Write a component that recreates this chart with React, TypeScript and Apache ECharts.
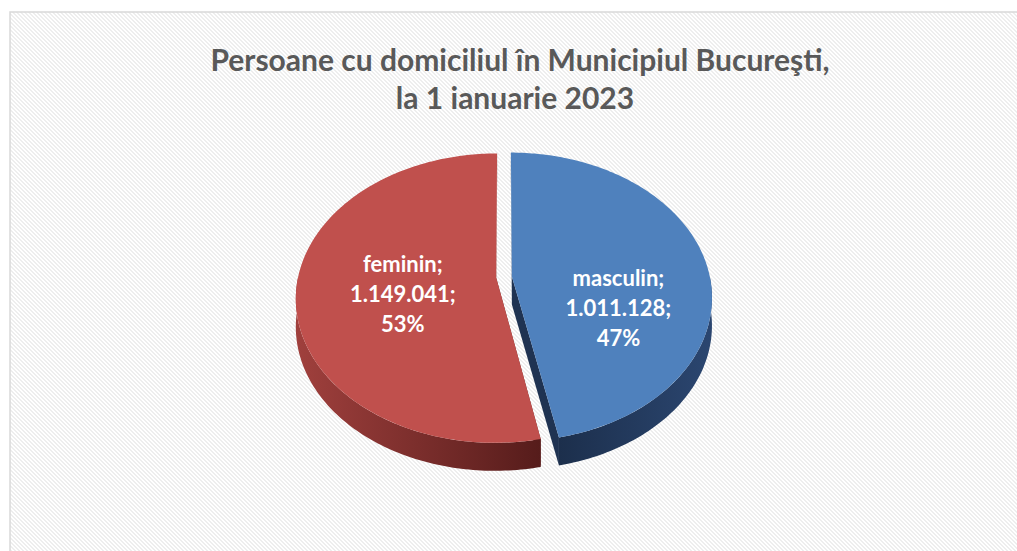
import React, { useEffect, useRef } from "react";
import * as echarts from "echarts";

const titleLines = ["Persoane cu domiciliul în Municipiul Bucureşti,", "la 1 ianuarie 2023"];
const categories = ["masculin", "feminin"];
const values = [1011128, 1149041];
const topColors = ["#4f81bd", "#c0504d"];
const wallColorsA = ["#2b4670", "#a0403d"];
const wallColorsB = ["#1c2f4c", "#561c1b"];
const cutColors = ["#1f3352", "#6a2422"];

const W = 1017;
const H = 551;

function fmtNum(v: number) {
  return String(v).replace(/\B(?=(\d{3})+(?!\d))/g, ".");
}

function makePattern() {
  const c = document.createElement("canvas");
  c.width = 4;
  c.height = 4;
  const ctx = c.getContext("2d")!;
  ctx.fillStyle = "#ffffff";
  ctx.fillRect(0, 0, 4, 4);
  ctx.fillStyle = "#eeeeee";
  for (let y = 0; y < 4; y++) {
    for (let x = 0; x < 4; x++) {
      const d = (((x - y) % 4) + 4) % 4;
      if (d < 2) ctx.fillRect(x, y, 1, 1);
    }
  }
  return c;
}

export default function App() {
  const ref = useRef<HTMLDivElement>(null);
  useEffect(() => {
    if (!ref.current) return;
    const chart = echarts.init(ref.current, null, { renderer: "svg" });
    const total = values.reduce((a, b) => a + b, 0);
    // geometry
    const cx = 504;
    const cyV = 277;
    const A = 198;
    const B = 141.6;
    const pa = 0.142;
    const depth = 28;
    const explode = 0.04;
    const labelR = 0.52;
    const labelDy = [38, 8];
    const labelDx = [5, 10];

    const proj = (x: number, z: number) => {
      const s = 1 + pa * z;
      return [cx + (A * x) / s, cyV - (B * z) / s];
    };

    const starts: number[] = [];
    let acc = 0;
    values.forEach((v) => {
      starts.push(acc);
      acc += (v / total) * Math.PI * 2;
    });

    const renderItem = (params: any, api: any) => {
      const i = params.dataIndex;
      const v = api.value(0);
      const t0 = starts[i];
      const t1 = t0 + (v / total) * Math.PI * 2;
      const mid = (t0 + t1) / 2;
      const ox = explode * Math.sin(mid);
      const oz = explode * Math.cos(mid);
      const pt = (th: number, r = 1) => proj(ox + r * Math.sin(th), oz + r * Math.cos(th));
      const arc = (a0: number, a1: number) => {
        const pts: number[][] = [];
        const n = Math.max(2, Math.ceil(Math.abs(a1 - a0) / (Math.PI / 180)));
        for (let k = 0; k <= n; k++) pts.push(pt(a0 + ((a1 - a0) * k) / n));
        return pts;
      };
      const children: any[] = [];
      const c0 = proj(ox, oz);
      [t0, t1].forEach((tb) => {
        const e = pt(tb);
        children.push({
          type: "polygon",
          shape: { points: [c0, e, [e[0], e[1] + depth], [c0[0], c0[1] + depth]] },
          style: { fill: cutColors[i] },
        });
      });
      const w0 = Math.max(t0, Math.PI / 2);
      const w1 = Math.min(t1, (Math.PI * 3) / 2);
      if (w1 > w0) {
        const top = arc(w0, w1);
        const bottom = top.map((p) => [p[0], p[1] + depth]).reverse();
        children.push({
          type: "polygon",
          shape: { points: top.concat(bottom) },
          style: {
            fill: new echarts.graphic.LinearGradient(i === 1 ? 0 : 1, 0, i === 1 ? 1 : 0, 0, [
              { offset: 0, color: wallColorsA[i] },
              { offset: 1, color: wallColorsB[i] },
            ]),
          },
        });
      }
      children.push({
        type: "polygon",
        shape: { points: [c0].concat(arc(t0, t1)) },
        style: { fill: topColors[i] },
      });
      const lp = proj(ox + labelR * Math.sin(mid), oz + labelR * Math.cos(mid));
      const pct = Math.round((v / total) * 100);
      children.push({
        type: "text",
        x: lp[0] + labelDx[i],
        y: lp[1] + labelDy[i],
        style: {
          text: `${categories[i]};\n${fmtNum(v)};\n${pct}%`,
          fill: "#ffffff",
          fontSize: 22,
          fontWeight: "bold",
          fontFamily: "Lato",
          align: "center",
          verticalAlign: "middle",
          lineHeight: 30,
        },
      });
      return { type: "group", children };
    };

    const titleStyle = {
      fill: "#595959",
      fontSize: 30,
      fontWeight: "bold",
      fontFamily: "Lato",
      align: "center",
      verticalAlign: "middle",
    };

    chart.setOption({
      animation: false,
      graphic: [
        {
          type: "rect",
          z: -10,
          shape: { x: 10, y: 12, width: 1100, height: 600 },
          style: { fill: { image: makePattern(), repeat: "repeat" } as any, stroke: "#d9d9d9", lineWidth: 1.5 },
        },
        { type: "text", z: 10, x: 520, y: 59, style: { ...titleStyle, text: titleLines[0] } },
        { type: "text", z: 10, x: 515, y: 97, style: { ...titleStyle, text: titleLines[1] } },
      ],
      series: [
        {
          type: "custom",
          coordinateSystem: "none",
          renderItem,
          data: values.map((v, i) => ({ name: categories[i], value: [v] })),
          z: 2,
        },
      ],
    });
    return () => chart.dispose();
  }, []);
  return (
    <div style={{ position: "fixed", left: 0, top: 0, width: W, height: H, background: "#fff" }}>
      <div ref={ref} style={{ width: W, height: H }} />
    </div>
  );
}
